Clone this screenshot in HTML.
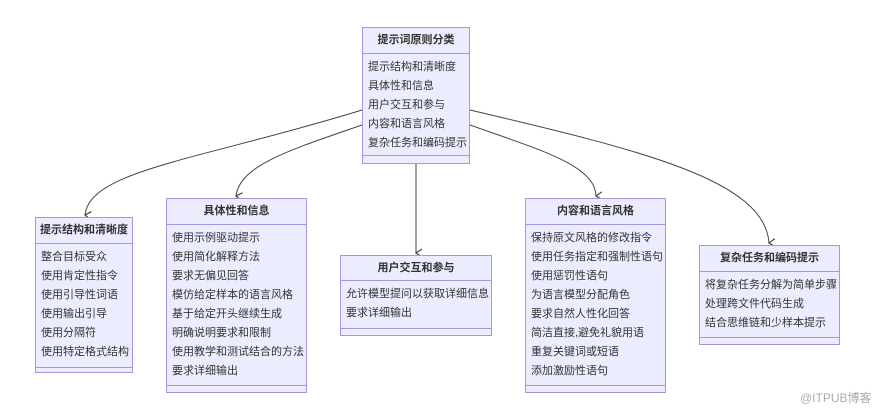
<!DOCTYPE html>
<html><head><meta charset="utf-8"><style>
body{margin:0;width:890px;height:409px;background:#fff;overflow:hidden;position:relative;font-family:"Liberation Sans","Noto Sans CJK SC",sans-serif;}
.b{position:absolute;background:#ececff;border:1px solid #a596e0;box-sizing:border-box;font-size:11px;color:#333;}
.t{font-weight:bold;text-align:center;border-bottom:1px solid #a596e0;}
.r{padding-left:5px;line-height:19px;}
.f{position:absolute;left:0;right:0;border-top:1px solid #a596e0;}
</style></head><body>
<svg width="890" height="409" style="position:absolute;left:0;top:0">
<defs><marker id="a" markerWidth="10" markerHeight="10" refX="5" refY="8" orient="auto" markerUnits="userSpaceOnUse"><path d="M1,2 L5,8 L9,2" fill="none" stroke="#444" stroke-width="1.2"/></marker></defs>
<g fill="none" stroke="#444" stroke-width="1">
<path d="M362,110 C200,160 90,170 85,215" marker-end="url(#a)"/>
<path d="M362,125 C290,150 240,165 236,196" marker-end="url(#a)"/>
<path d="M416,164 L416,253" marker-end="url(#a)"/>
<path d="M470,125 C540,150 595,165 596,196" marker-end="url(#a)"/>
<path d="M470,110 C640,150 765,180 769,243" marker-end="url(#a)"/>
</g></svg>
<div class="b" style="left:362px;top:27px;width:108px;height:137px"><div class="t" style="height:25px;line-height:25px">提示词原则分类</div><div style="padding-top:4px"><div class="r">提示结构和清晰度</div><div class="r">具体性和信息</div><div class="r">用户交互和参与</div><div class="r">内容和语言风格</div><div class="r">复杂任务和编码提示</div></div><div class="f" style="top:127px"></div></div>
<div class="b" style="left:35px;top:217px;width:98px;height:156px"><div class="t" style="height:25px;line-height:25px">提示结构和清晰度</div><div style="padding-top:4px"><div class="r">整合目标受众</div><div class="r">使用肯定性指令</div><div class="r">使用引导性词语</div><div class="r">使用输出引导</div><div class="r">使用分隔符</div><div class="r">使用特定格式结构</div></div><div class="f" style="top:149px"></div></div>
<div class="b" style="left:166px;top:198px;width:141px;height:195px"><div class="t" style="height:25px;line-height:25px">具体性和信息</div><div style="padding-top:4px"><div class="r">使用示例驱动提示</div><div class="r">使用简化解释方法</div><div class="r">要求无偏见回答</div><div class="r">模仿给定样本的语言风格</div><div class="r">基于给定开头继续生成</div><div class="r">明确说明要求和限制</div><div class="r">使用教学和测试结合的方法</div><div class="r">要求详细输出</div></div><div class="f" style="top:186px"></div></div>
<div class="b" style="left:340px;top:255px;width:152px;height:81px"><div class="t" style="height:24px;line-height:24px">用户交互和参与</div><div style="padding-top:4px"><div class="r">允许模型提问以获取详细信息</div><div class="r">要求详细输出</div></div><div class="f" style="top:72px"></div></div>
<div class="b" style="left:525px;top:198px;width:141px;height:195px"><div class="t" style="height:25px;line-height:25px">内容和语言风格</div><div style="padding-top:4px"><div class="r">保持原文风格的修改指令</div><div class="r">使用任务指定和强制性语句</div><div class="r">使用惩罚性语句</div><div class="r">为语言模型分配角色</div><div class="r">要求自然人性化回答</div><div class="r">简洁直接,避免礼貌用语</div><div class="r">重复关键词或短语</div><div class="r">添加激励性语句</div></div><div class="f" style="top:186px"></div></div>
<div class="b" style="left:699px;top:245px;width:141px;height:100px"><div class="t" style="height:25px;line-height:25px">复杂任务和编码提示</div><div style="padding-top:4px"><div class="r">将复杂任务分解为简单步骤</div><div class="r">处理跨文件代码生成</div><div class="r">结合思维链和少样本提示</div></div><div class="f" style="top:91px"></div></div>
<div style="position:absolute;left:800px;top:389px;font-size:12px;color:#aaa">@ITPUB博客</div>
</body></html>
